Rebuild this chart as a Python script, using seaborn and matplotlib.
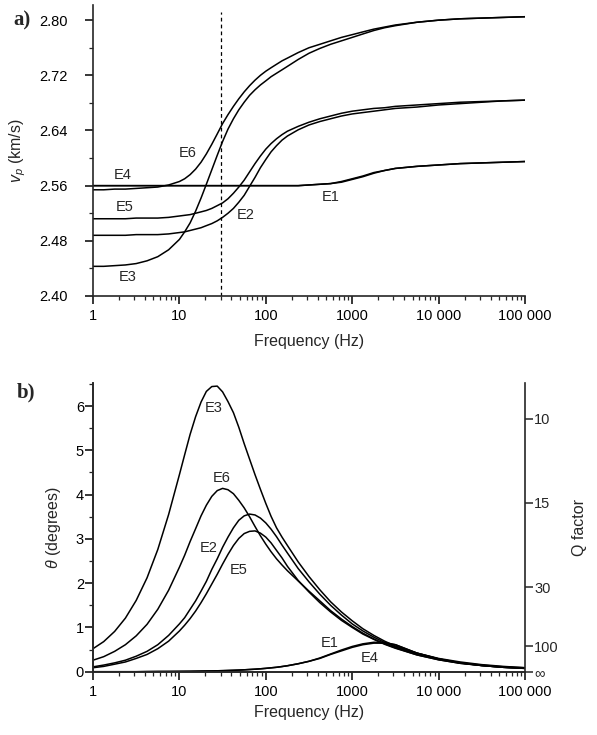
import numpy as np
import pandas as pd
import matplotlib
matplotlib.use('Agg')
import matplotlib.pyplot as plt
import seaborn as sns
from matplotlib.ticker import FixedLocator, LogLocator, NullFormatter

# Frequencies (Hz) at which the curves were read
freq = [1, 1.33, 1.78, 2.37, 3.16, 4.22, 5.62, 7.5,
        10, 11.5, 13.3, 15.4, 17.8, 20.5, 23.7, 27.4,
        31.6, 36.5, 42.2, 48.7, 56.2, 64.9, 75, 86.6,
        100, 115, 133, 154, 178, 237, 316, 422,
        562, 750, 1000, 1330, 1780, 2370, 3160, 5620,
        10000, 17800, 31600, 56200, 100000]
names = ['E1', 'E2', 'E3', 'E4', 'E5', 'E6']

# a) P-wave velocity (km/s)
vp_e1 = [2.560, 2.560, 2.560, 2.560, 2.560, 2.560, 2.560, 2.560,
         2.560, 2.560, 2.560, 2.560, 2.560, 2.560, 2.560, 2.560,
         2.560, 2.560, 2.560, 2.560, 2.560, 2.560, 2.560, 2.560,
         2.560, 2.560, 2.560, 2.560, 2.560, 2.560, 2.561, 2.562,
         2.563, 2.566, 2.570, 2.574, 2.579, 2.582, 2.585, 2.588,
         2.590, 2.592, 2.593, 2.594, 2.595]
vp_e2 = [2.488, 2.488, 2.488, 2.488, 2.489, 2.489, 2.489, 2.490,
         2.492, 2.493, 2.495, 2.497, 2.499, 2.502, 2.505, 2.509,
         2.514, 2.520, 2.527, 2.536, 2.546, 2.559, 2.572, 2.586,
         2.598, 2.609, 2.618, 2.626, 2.632, 2.641, 2.648, 2.653,
         2.657, 2.661, 2.664, 2.666, 2.668, 2.670, 2.672, 2.674,
         2.677, 2.679, 2.681, 2.683, 2.684]
vp_e3 = [2.443, 2.443, 2.444, 2.445, 2.447, 2.451, 2.457, 2.467,
         2.482, 2.493, 2.506, 2.523, 2.542, 2.562, 2.583, 2.604,
         2.624, 2.642, 2.657, 2.670, 2.681, 2.691, 2.699, 2.706,
         2.712, 2.718, 2.723, 2.728, 2.733, 2.743, 2.752, 2.759,
         2.765, 2.770, 2.775, 2.780, 2.785, 2.789, 2.792, 2.797,
         2.800, 2.802, 2.803, 2.804, 2.805]
vp_e4 = [2.560, 2.560, 2.560, 2.560, 2.560, 2.560, 2.560, 2.560,
         2.560, 2.560, 2.560, 2.560, 2.560, 2.560, 2.560, 2.560,
         2.560, 2.560, 2.560, 2.560, 2.560, 2.560, 2.560, 2.560,
         2.560, 2.560, 2.560, 2.560, 2.560, 2.560, 2.561, 2.562,
         2.563, 2.565, 2.569, 2.573, 2.578, 2.582, 2.585, 2.588,
         2.590, 2.592, 2.593, 2.594, 2.595]
vp_e5 = [2.512, 2.512, 2.512, 2.512, 2.513, 2.513, 2.513, 2.514,
         2.516, 2.517, 2.518, 2.520, 2.522, 2.524, 2.527, 2.531,
         2.535, 2.541, 2.549, 2.558, 2.568, 2.580, 2.592, 2.603,
         2.613, 2.621, 2.628, 2.634, 2.639, 2.646, 2.652, 2.657,
         2.661, 2.665, 2.668, 2.670, 2.672, 2.673, 2.675, 2.677,
         2.679, 2.681, 2.682, 2.683, 2.684]
vp_e6 = [2.554, 2.554, 2.555, 2.555, 2.556, 2.557, 2.558, 2.561,
         2.566, 2.570, 2.576, 2.584, 2.594, 2.606, 2.620, 2.635,
         2.650, 2.663, 2.675, 2.686, 2.696, 2.705, 2.713, 2.720,
         2.726, 2.731, 2.736, 2.741, 2.745, 2.753, 2.760, 2.765,
         2.770, 2.775, 2.779, 2.783, 2.787, 2.790, 2.793, 2.797,
         2.800, 2.802, 2.803, 2.804, 2.805]

# b) attenuation angle theta (degrees)
th_e1 = [0.0, 0.0, 0.0, 0.0, 0.0, 0.003, 0.005, 0.006,
         0.008, 0.009, 0.01, 0.012, 0.014, 0.016, 0.018, 0.021,
         0.024, 0.028, 0.032, 0.037, 0.043, 0.05, 0.057, 0.066,
         0.076, 0.088, 0.10, 0.117, 0.135, 0.18, 0.235, 0.31,
         0.40, 0.49, 0.57, 0.63, 0.665, 0.66, 0.61, 0.42,
         0.29, 0.20, 0.14, 0.10, 0.075]
th_e2 = [0.11, 0.15, 0.20, 0.26, 0.35, 0.46, 0.61, 0.82,
         1.08, 1.22, 1.41, 1.60, 1.82, 2.04, 2.31, 2.55,
         2.81, 3.04, 3.25, 3.42, 3.52, 3.56, 3.54, 3.47,
         3.36, 3.22, 3.05, 2.86, 2.68, 2.33, 2.03, 1.75,
         1.50, 1.28, 1.08, 0.92, 0.78, 0.66, 0.56, 0.40,
         0.28, 0.20, 0.15, 0.11, 0.09]
th_e3 = [0.52, 0.68, 0.91, 1.21, 1.61, 2.12, 2.76, 3.55,
         4.45, 4.90, 5.36, 5.76, 6.09, 6.33, 6.44, 6.45,
         6.32, 6.10, 5.85, 5.52, 5.15, 4.80, 4.45, 4.12,
         3.80, 3.51, 3.25, 3.04, 2.85, 2.48, 2.15, 1.85,
         1.58, 1.35, 1.15, 0.97, 0.82, 0.69, 0.58, 0.42,
         0.30, 0.22, 0.16, 0.12, 0.09]
th_e4 = [0.0, 0.0, 0.0, 0.0, 0.0, 0.003, 0.005, 0.006,
         0.008, 0.009, 0.01, 0.012, 0.014, 0.016, 0.018, 0.021,
         0.024, 0.028, 0.032, 0.037, 0.043, 0.05, 0.057, 0.066,
         0.076, 0.088, 0.10, 0.117, 0.135, 0.18, 0.235, 0.30,
         0.39, 0.47, 0.55, 0.61, 0.645, 0.645, 0.61, 0.42,
         0.29, 0.20, 0.14, 0.10, 0.075]
th_e5 = [0.09, 0.12, 0.17, 0.22, 0.30, 0.39, 0.52, 0.69,
         0.92, 1.05, 1.20, 1.37, 1.56, 1.76, 1.98, 2.20,
         2.43, 2.65, 2.85, 3.01, 3.12, 3.17, 3.18, 3.13,
         3.04, 2.91, 2.74, 2.57, 2.38, 2.06, 1.80, 1.56,
         1.35, 1.16, 1.00, 0.85, 0.73, 0.62, 0.53, 0.38,
         0.27, 0.19, 0.14, 0.10, 0.08]
th_e6 = [0.26, 0.34, 0.46, 0.61, 0.81, 1.07, 1.41, 1.84,
         2.36, 2.63, 2.94, 3.23, 3.52, 3.76, 3.96, 4.09,
         4.14, 4.11, 4.02, 3.87, 3.70, 3.50, 3.28, 3.07,
         2.88, 2.71, 2.55, 2.41, 2.28, 2.05, 1.82, 1.60,
         1.38, 1.19, 1.02, 0.87, 0.74, 0.63, 0.54, 0.38,
         0.27, 0.19, 0.14, 0.10, 0.08]

vp_ticks = [2.40, 2.48, 2.56, 2.64, 2.72, 2.80]
th_ticks = [0, 1, 2, 3, 4, 5, 6]
q_values = [10, 15, 30, 100]
freq_ticks = [1, 10, 100, 1000, 10000, 100000]
freq_labels = ['1', '10', '100', '1000', '10 000', '100 000']

# curve labels (frequency, value)
lab_a = {'E1': (560, 2.544), 'E2': (59, 2.517), 'E3': (2.55, 2.428),
         'E4': (2.2, 2.575), 'E5': (2.35, 2.529), 'E6': (12.6, 2.607)}
lab_b = {'E1': (553, 0.64), 'E2': (21.6, 2.79), 'E3': (24.7, 5.95),
         'E4': (1580, 0.30), 'E5': (48, 2.30), 'E6': (30.9, 4.37)}

n = len(freq)
df_a = pd.DataFrame({'freq': freq * 6,
                     'vp': vp_e1 + vp_e2 + vp_e3 + vp_e4 + vp_e5 + vp_e6,
                     'curve': np.repeat(names, n)})
df_b = pd.DataFrame({'freq': freq * 6,
                     'theta': th_e1 + th_e2 + th_e3 + th_e4 + th_e5 + th_e6,
                     'curve': np.repeat(names, n)})

sns.set_style('ticks')
plt.rcParams['font.family'] = ['Liberation Sans', 'DejaVu Sans']
plt.rcParams['mathtext.fontset'] = 'custom'
plt.rcParams['mathtext.it'] = 'Liberation Sans:italic'
plt.rcParams['mathtext.rm'] = 'Liberation Sans'
plt.rcParams['axes.linewidth'] = 1.2

fs_tick = 10.5
fs_lab = 11.5

fig = plt.figure(figsize=(5.97, 7.35), dpi=100)
ax1 = fig.add_axes([0.1558, 0.5973, 0.7236, 0.3959])
ax2 = fig.add_axes([0.1558, 0.0861, 0.7236, 0.3928])

# --- panel a ---
sns.lineplot(data=df_a, x='freq', y='vp', units='curve', estimator=None,
             color='black', lw=1.1, ax=ax1, legend=False)
ax1.vlines(30, 2.40, 2.812, colors='black', linestyles=(0, (3, 2.5)), lw=0.9)
ax1.set_xscale('log')
ax1.set_xlim(1, 100000)
ax1.set_ylim(2.40, 2.822)
ax1.set_yticks(vp_ticks)
ax1.set_yticklabels([f'{v:.2f}' for v in vp_ticks])
ax1.yaxis.set_minor_locator(FixedLocator([2.44, 2.52, 2.60, 2.68, 2.76]))
ax1.set_ylabel(r'$v_p$ (km/s)', fontsize=fs_lab)
ax1.yaxis.set_label_coords(-0.15, 0.5)
ax1.tick_params(axis='y', which='major', pad=13)
for name, (fx, fy) in lab_a.items():
    ax1.text(fx, fy, name, ha='center', va='center', fontsize=fs_tick)
sns.despine(ax=ax1)

# --- panel b ---
sns.lineplot(data=df_b, x='freq', y='theta', units='curve', estimator=None,
             color='black', lw=1.1, ax=ax2, legend=False)
ax2.set_xscale('log')
ax2.set_xlim(1, 100000)
ax2.set_ylim(0, 6.52)
ax2.set_yticks(th_ticks)
ax2.set_yticklabels([str(t) for t in th_ticks])
ax2.yaxis.set_minor_locator(FixedLocator(np.arange(0.5, 6.6, 1.0)))
ax2.set_ylabel(r'$\theta$ (degrees)', fontsize=fs_lab)
ax2.yaxis.set_label_coords(-0.069, 0.5)
ax2.tick_params(axis='y', which='major', pad=1)
for name, (fx, fy) in lab_b.items():
    ax2.text(fx, fy, name, ha='center', va='center', fontsize=fs_tick)
sns.despine(ax=ax2, right=True)

# right axis: Q factor = 1 / tan(theta)
ax2r = ax2.twinx()
ax2r.set_ylim(ax2.get_ylim())
q_pos = list(np.degrees(np.arctan(1 / np.array(q_values, dtype=float)))) + [0.0]
ax2r.set_yticks(q_pos)
ax2r.set_yticklabels([str(q) for q in q_values] + ['\u221e'])
ax2r.set_ylabel('Q factor', fontsize=fs_lab)
ax2r.yaxis.set_label_coords(1.109, 0.5)
ax2r.tick_params(axis='y', which='major', length=5.5, width=1.1, pad=1,
                 labelsize=fs_tick, direction='out')
ax2r.spines['top'].set_visible(False)

for ax, ylab_top in ((ax1, -0.131), (ax2, -0.115)):
    ax.set_xticks(freq_ticks)
    ax.set_xticklabels(freq_labels)
    ax.xaxis.set_minor_locator(LogLocator(base=10, subs=np.arange(2, 10)))
    ax.xaxis.set_minor_formatter(NullFormatter())
    ax.set_xlabel('Frequency (Hz)', fontsize=fs_lab)
    ax.xaxis.set_label_coords(0.5, ylab_top)
    ax.tick_params(which='major', length=5.5, width=1.1, labelsize=fs_tick,
                   direction='out', colors='black')
    ax.tick_params(which='minor', length=3, width=0.9, direction='out')
    ax.tick_params(axis='x', which='major', pad=4)

fig.text(13 / 597, 1 - 20 / 735, 'a)', fontsize=15, fontweight='bold',
         family='Liberation Serif', ha='left', va='center')
fig.text(17 / 597, 1 - 392 / 735, 'b)', fontsize=15, fontweight='bold',
         family='Liberation Serif', ha='left', va='center')

fig.savefig('out.png', dpi=100)
